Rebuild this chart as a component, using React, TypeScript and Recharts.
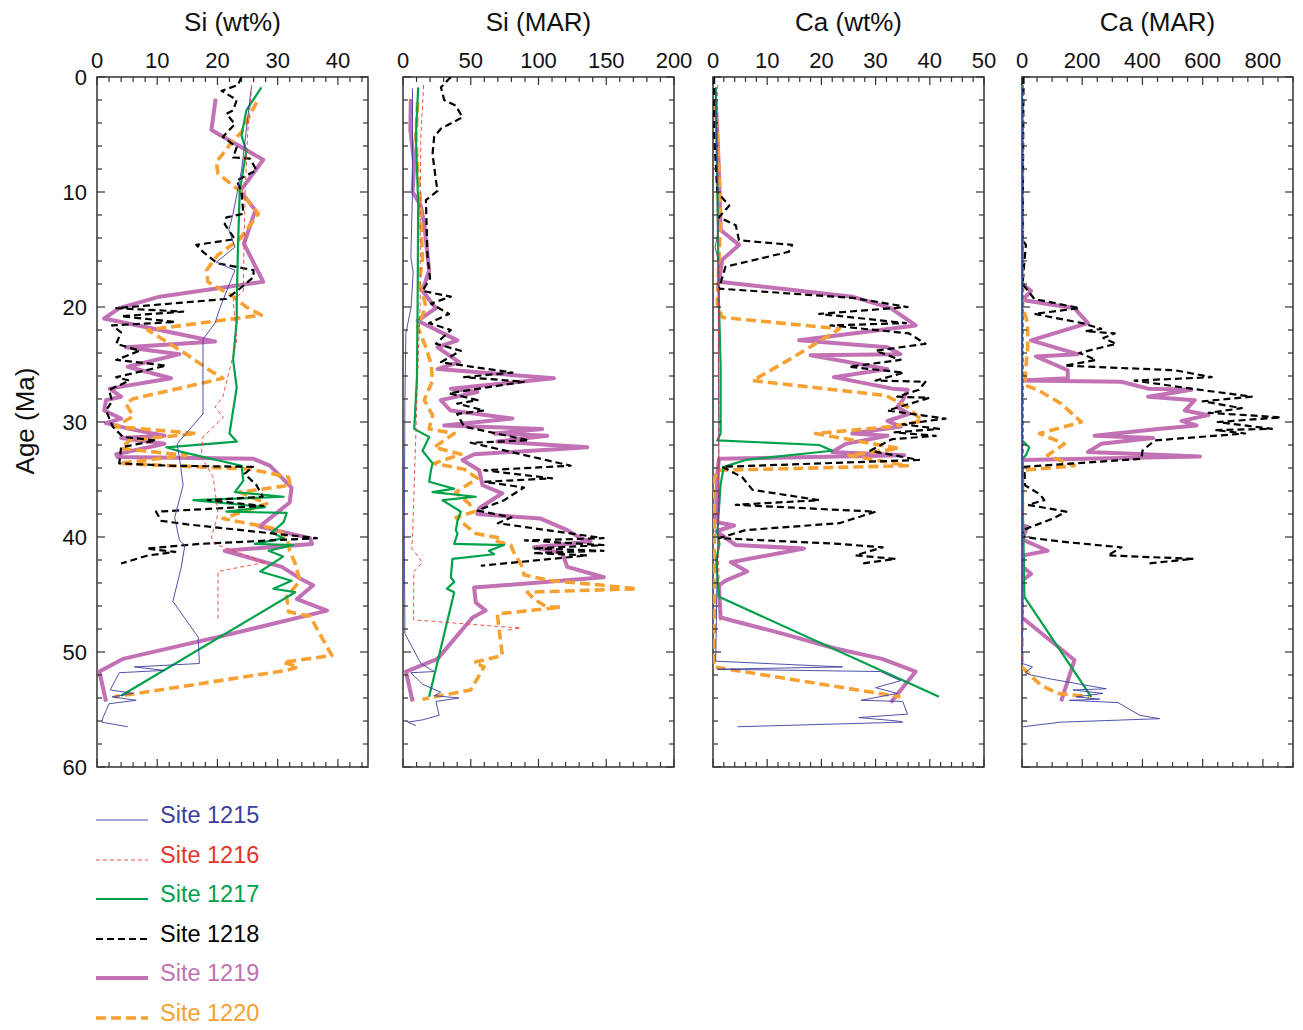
import React from 'react';
import { ScatterChart, Scatter, XAxis, YAxis, ReferenceArea } from 'recharts';

const FONT = '"Liberation Sans", Arial, Helvetica, sans-serif';

// sites, in legend order
const SITES = ['Site 1215', 'Site 1216', 'Site 1217', 'Site 1218', 'Site 1219', 'Site 1220'];

// tick labels
const AGE_MAJOR = [0, 10, 20, 30, 40, 50, 60];
const SI_WT_MAJOR = [0, 10, 20, 30, 40];
const SI_MAR_MAJOR = [0, 50, 100, 150, 200];
const CA_WT_MAJOR = [0, 10, 20, 30, 40, 50];
const CA_MAR_MAJOR = [0, 200, 400, 600, 800];

// ---- Si (wt%) : [age Ma, value]
const siWt1215 = [[1.0,25.6],[4.6,24.8],[8.1,24],[10,23.3],[11.9,22.6],[13.3,21.9],[14.8,22.9],[16.1,19.8],[16.8,22.9],[20.1,20.4],[21.4,19.6],[22.8,17.6],[29.3,17.6],[31.9,13.3],[33.5,13.8],[35.5,14.3],[38.3,12.9],[40.3,13.7],[40.7,14.6],[42.6,14],[45.6,12.6],[48.7,16.8],[51,17],[51.3,6.2],[51.6,11.2],[51.8,3.7],[53.3,2.2],[53.6,6],[53.9,2.5],[54.2,6.5],[54.5,2],[55.7,1],[56.1,0.8],[56.5,5.1]];
const siWt1216 = [[0.7,25.7],[5,25],[10,24.6],[15,24.4],[18.6,24.3],[19.4,22.6],[22.9,23.2],[25.5,22],[27.8,20.9],[28.7,19.6],[29.6,21],[31.3,17.6],[33,17.3],[34.8,19.3],[38,20.1],[40,19],[40.6,19.5],[42.2,27.9],[43,20.1],[47.4,20.1]];
const siWt1217 = [[0.9,27.3],[2.9,24.8],[5.1,24],[6.4,24.8],[9.9,23.7],[15,23.4],[19.7,23.2],[21.2,23.2],[24.6,22.6],[27,23.2],[31,22],[31.7,23.2],[32.2,11.5],[32.6,14],[33.8,24],[35.1,24.3],[36.1,22.9],[36.5,31],[36.8,16],[37.4,27.9],[37.8,21.5],[37.9,31.5],[38.7,31],[39.6,29],[40.1,31],[40.6,26.2],[40.7,32.6],[41.2,28.5],[41.7,30.9],[43,27.1],[43.8,32.3],[44.5,29.3],[44.8,32.9],[53.8,4]];
const siWt1218 = [[0,24],[0.7,23.4],[1.2,20.7],[2,23.2],[2.9,22.6],[3.2,21.5],[4.1,22.9],[5.2,20.9],[6.1,23.2],[7,22.6],[7.1,25.4],[8.1,26.5],[9,23.2],[10,24],[11.9,24.3],[12.2,21.5],[12.8,21.2],[14.1,22.9],[14.6,16.5],[15.2,17.6],[16.2,20],[16.8,26],[17.4,26],[18.5,23.5],[19.3,21.5],[20.1,3.2],[20.4,14.3],[20.8,4],[21.3,13],[21.6,2.5],[22.2,4],[23.2,3.2],[23.8,7.1],[24.6,3.2],[25.1,11.5],[26.1,3.2],[26.4,5.4],[27.2,2],[28.2,2.5],[29,1.5],[30.4,2.6],[31.3,4.3],[31.6,9.8],[32.2,4],[33.6,3.7],[33.8,12.1],[33.9,25.9],[34.5,24.5],[35.5,26.5],[36.5,27.5],[36.8,18.4],[37.3,27.6],[37.8,9.8],[38.6,10.7],[38.9,15],[40.1,36.5],[40.6,17.1],[41,8.2],[41.3,13],[41.6,8.5],[42.3,4]];
const siWt1219 = [[1.9,19.7],[4.6,19],[7.2,27.6],[9.9,23.8],[11.6,26.3],[14.5,24.4],[17.8,27.6],[19.1,10.4],[20.1,3.7],[21,1.2],[23,19.6],[23.5,4.8],[24.1,13.7],[25.2,5.1],[26.2,12.3],[27.1,2.1],[27.8,4],[28.1,1.5],[29,1.2],[29.7,4],[30.1,1.5],[30.6,5.4],[31.2,11.2],[31.4,4],[31.9,11.2],[32.8,3.2],[33.05,3.4],[33.2,26],[33.8,28.7],[35.7,32.3],[37,32],[39.1,27],[40.1,35.4],[40.6,35.7],[41.2,21.2],[42.6,30.7],[43.6,33.7],[44.2,35.9],[45.4,33.2],[46.4,38.2],[48.6,20.9],[50.6,4.3],[51.7,0.4],[54.3,1.5]];
const siWt1220 = [[2.2,26.5],[3.6,25.1],[4.8,24],[5.7,22.3],[6.5,21.2],[7.4,19.8],[8.4,20.1],[9.9,23.7],[11.9,26.8],[12.9,25.4],[14.1,23.7],[15.5,20],[16.8,18.2],[17.8,18.4],[19.1,22.6],[20,24.8],[20.7,27.3],[22,8.4],[22.8,10.9],[24.2,15.1],[25.5,18.7],[26.2,20.9],[28,5.9],[28.4,4.8],[29.5,6],[30.4,3],[31,16.5],[31.6,5.4],[32.3,4],[32.9,14.8],[33.6,3.7],[34.1,25.4],[34.8,31.8],[35.5,32.1],[36.1,23.7],[37.1,28.2],[38.4,20.9],[39.3,29.8],[40,31.5],[41.2,32],[42.3,32.9],[43.8,33.7],[45.2,31.5],[46.5,31.8],[46.9,35.4],[49,37.6],[50.3,39],[50.9,30.9],[51.3,33.4],[51.6,31.5],[53.9,2.9]];

// ---- Si (MAR)
const siMar1215 = [[1.0,7],[10,7],[15.7,5.8],[17,7.5],[20,6],[22.3,2.1],[28.1,1.4],[40,1],[48.4,1.4],[51,13.2],[51.7,23],[51.8,5.8],[52.8,14.4],[53.5,27.9],[53.8,23],[54,41.4],[54.3,24.3],[55.5,26.7],[55.9,14.4],[56.1,3.4],[56.4,9.5]];
const siMar1216 = [[0.7,15.2],[5.2,13.2],[11,12.7],[19.7,12.7],[25,11],[31,9.5],[39.7,7.1],[41,6.5],[42.2,14.4],[43,8],[47.2,7.8],[47.8,72.1],[47.9,86.8],[48.1,77]];
const siMar1217 = [[0.9,11.2],[5.2,9.5],[11,11.2],[19.7,10.8],[26.1,10.3],[30.6,8.3],[31.3,19.3],[32.5,14.4],[33.6,21.8],[34.2,20.6],[35.2,19.3],[35.8,37.8],[36.1,21.8],[36.5,53.7],[36.8,29.2],[37.8,42.7],[38.6,40.2],[39.4,39],[39.7,40.2],[40.6,37.8],[40.7,74.6],[41.2,63.5],[41.5,67.2],[41.9,36.5],[43.5,35.3],[43.9,37.8],[44.5,32.4],[44.8,37.8],[53.9,19.3]];
const siMar1218 = [[0,35.3],[0.9,28],[2,30.4],[2.5,39],[3.5,43.9],[4.5,27.9],[5.2,23],[6.7,21.8],[9,24.3],[9.9,25.5],[10.7,16.9],[15.7,18.1],[17.5,20],[18.6,14.4],[19.1,35.3],[19.7,20.6],[20.6,34],[21.4,19.3],[22,35.3],[23.2,24.3],[23.8,42.7],[24.8,28],[25.2,51.3],[25.7,80.7],[26.1,45.1],[26.5,89.3],[27.5,34],[28.1,55],[28.4,40],[29,59.8],[29.3,40],[30.4,45.1],[31.6,93],[31.8,50],[33.8,123.7],[34.2,60],[34.9,110],[35.2,60],[35.7,89.3],[36.8,74.6],[37.7,55],[38.3,80],[38.8,70],[40.1,148],[40.3,90],[40.7,148],[41,96],[41.2,148],[41.4,96],[41.6,136],[42.5,57.4]];
const siMar1219 = [[1.9,5.8],[4.6,5.4],[7.5,8.3],[10,7.1],[11.2,13.2],[12.8,15.7],[16.8,19.3],[18.6,14.4],[20.1,24.3],[21.2,10.8],[22.9,40.2],[23.5,25.5],[24.8,41.4],[25.4,25.5],[26.2,111.4],[27.1,35.3],[27.4,55],[28.1,27.9],[29,35],[29.7,80.7],[30.3,30.4],[30.6,102.8],[31,67.2],[31.2,106.5],[31.7,69.6],[32.2,136],[32.8,52.5],[33.3,43.9],[34.2,56.2],[35.5,58.7],[36.2,73.3],[37.5,56.2],[38,54.9],[38.4,101.6],[39.4,121.2],[40.1,131],[40.4,138.4],[40.9,96.7],[41.4,117.5],[42.6,121.2],[43.5,148.2],[44.4,52.5],[45.7,53.7],[46.4,61],[47,51.3],[50.6,25.5],[51.7,2.2],[54.3,7.1]];
const siMar1220 = [[2.2,10.8],[5.2,9.5],[8.1,10.8],[10.4,12.7],[12.5,13.2],[15.7,14.4],[18,12],[19.4,15.7],[20,16.9],[21.7,10.8],[23.5,16.9],[24.9,20.6],[26.4,21.8],[28.1,15.7],[29.4,21.8],[30.6,19.3],[31,37.8],[32.2,23],[32.8,42.7],[33.6,23],[34.1,45.1],[34.9,55],[36.1,39],[37.1,48.8],[37.8,52.5],[38.3,39],[39.7,53.7],[40.1,72.1],[40.4,69.6],[40.7,79.5],[41.4,82],[42.6,88.1],[43.3,89.3],[43.8,109],[44.2,148],[44.5,172.8],[44.8,91.8],[45.4,96.7],[46.1,106.5],[46.1,116.3],[46.7,69.6],[50.3,73.3],[50.9,52.5],[51.3,59.8],[53.3,50],[54.1,14.4]];

// ---- Ca (wt%)
const caWt1215 = [[1,0.5],[10,0.8],[13.3,1],[14.8,0.4],[16,1],[25,1],[35,1.1],[45,0.7],[50.8,0.5],[51.3,23.9],[51.5,0.8],[51.7,30.9],[52.5,34.6],[53.1,30],[53.6,34],[54.2,27.3],[54.3,35],[55.4,35.9],[55.7,26.9],[56,34],[56.1,35],[56.5,4.5]];
const caWt1216 = [[0.7,0.8],[10,0.9],[20,1],[30,1.1],[40,0.9],[45,1.2],[47.5,1.3]];
const caWt1217 = [[0.9,0.5],[10,0.8],[19.7,1.1],[25,1.4],[31,1.4],[31.6,0.8],[32,19.6],[32.5,22],[33.3,6],[33.9,2],[35.4,1.4],[39.7,0.8],[40.6,1.2],[42,0.6],[45.2,1.1],[53.9,41.7]];
const caWt1218 = [[0,0.2],[5,0.2],[10,0.8],[11.2,3],[12.2,1.1],[12.9,4.2],[14.2,4.8],[14.6,14.6],[15.2,14],[16.5,2.3],[18.4,1.1],[19.2,25.7],[20,35.9],[20.6,19.6],[21.4,35.6],[21.6,21.7],[22.3,36.2],[23.2,39.2],[23.8,30],[24.6,34.6],[25.2,25.1],[25.7,35.2],[26.4,30],[26.5,39.2],[27.2,38],[27.8,34],[27.9,39.9],[29,32.2],[29.7,42.9],[30.2,35],[30.6,41.7],[30.9,33.5],[31.2,41.1],[31.5,33],[32.5,29],[33.3,38],[33.9,1.7],[34.8,5.4],[35.9,7.3],[36.8,19.6],[37.2,4.2],[37.8,30],[38.8,23.3],[39.4,6],[40.1,1.1],[40.6,23.3],[40.9,31.3],[41.6,26.3],[41.9,33.7],[42.3,27.6]];
const caWt1219 = [[1.9,0.5],[8.1,1.1],[13.3,1.4],[14.6,4.8],[15.9,1.7],[17.8,1.1],[19.1,25.7],[20.1,32.8],[21.6,37.4],[22.9,15.9],[23.5,32.2],[24.1,34.6],[24.2,18],[25.4,32.2],[26.1,22.3],[27.1,33.1],[27.2,35.9],[28.1,35],[28.7,34],[29.3,36.2],[29.9,32.2],[30.4,34.6],[31,25.7],[31.2,32.2],[31.9,24.5],[32.6,22],[32.9,35.3],[33.2,1.1],[34.5,0.8],[38.7,0.5],[39,3.9],[39.5,0.6],[40.7,4.2],[41,16.8],[42.2,3.3],[43,6.3],[43.8,2.3],[44.2,1.1],[47,1.4],[48.4,12.8],[49.7,22.6],[50.6,31.2],[51.7,37.4],[54.4,32.8]];
const caWt1220 = [[2.2,0.5],[8,1.1],[12.5,1.4],[17,1],[19.7,0.8],[20.9,1.7],[21.9,23.3],[23.2,18.9],[24.6,14],[26.4,7.3],[27.7,31.9],[28.7,35.9],[29.9,38.6],[30.4,33],[31,18.9],[32.3,34.3],[32.9,25.1],[33.8,35.9],[34.2,0.8],[35,0.2],[45,0.3],[51.3,0.2],[53.9,34.6]];

// ---- Ca (MAR)
const caMar1215 = [[1,1],[20,2],[40,2],[50.5,1],[51,2],[51.3,35],[51.8,10],[52,30],[52.3,85],[53.2,280],[53.3,169],[53.6,269],[53.9,180],[54.1,258],[54.2,158],[54.4,319],[55.5,391],[55.8,457],[56.1,130],[56.5,2]];
const caMar1216 = [[0.7,5],[20,5],[40,5],[47.5,5]];
const caMar1217 = [[0.9,0],[31.6,0],[32.2,24],[32.9,13],[33.2,0],[45.2,8],[53.9,230]];
const caMar1218 = [[0,5],[10,3],[14.2,2],[14.6,13],[16,8],[18,2],[19.3,41],[20.1,191],[20.6,41],[21.4,200],[21.9,263],[22.1,210],[22.3,308],[22.7,270],[23.2,313],[24,190],[24.6,246],[25.1,141],[25.5,508],[26.1,630],[26.4,374],[27.1,563],[27.8,763],[28.2,600],[28.8,730],[29.2,620],[29.6,860],[30,650],[30.6,830],[30.7,641],[31,741],[31.6,441],[32.5,400],[33.2,397],[33.9,8],[35.5,10],[36.3,60],[36.8,74],[37.2,20],[37.8,147],[38.4,102],[39.4,2],[40,5],[40.4,130],[40.9,330],[41.6,285],[41.9,569],[42.3,419]];
const caMar1219 = [[1.9,0],[18,0],[18.6,30],[19.4,2],[20.1,174],[21.4,219],[22.9,30],[24.1,185],[24.3,46],[25.5,152],[26.2,152],[26.4,0],[26.5,330],[27.1,419],[27.2,563],[27.8,419],[28.1,574],[29,541],[29.4,619],[29.9,530],[30.3,580],[30.6,452],[31.2,241],[31.4,435],[31.9,263],[32.6,219],[33,591],[33.3,0],[39,0],[39.1,19],[40.2,0],[41.2,85],[41.6,5],[42.6,3],[43.2,30],[43.8,0],[47,0],[50.7,174],[54.3,130]];
const caMar1220 = [[2.2,0],[20,2],[21.4,19],[23.5,19],[25.2,13],[26.8,10],[27.2,52],[28.4,130],[30,197],[31,58],[31.9,141],[32.9,85],[33.8,174],[34.2,2],[45,0],[51.3,0],[52.9,63],[53.6,119],[53.9,224]];

const STYLES = [
  { color: '#3c3e9d', width: 0.9, dash: undefined },
  { color: '#e8402f', width: 0.9, dash: '4 3' },
  { color: '#00a14b', width: 2.2, dash: undefined },
  { color: '#000000', width: 2.2, dash: '7 4' },
  { color: '#c271b4', width: 4, dash: undefined },
  { color: '#f7a133', width: 3.6, dash: '10 5' },
];
const LEGEND_TEXT = ['#3c3e9d', '#e3352b', '#00a04b', '#000000', '#c271b4', '#f5a030'];
const DRAW_ORDER = [4, 5, 2, 3, 0, 1];

const PANELS = [
  { title: 'Si (wt%)', max: 45, minor: 2, major: SI_WT_MAJOR, left: 97, series: [siWt1215, siWt1216, siWt1217, siWt1218, siWt1219, siWt1220] },
  { title: 'Si (MAR)', max: 200, minor: 10, major: SI_MAR_MAJOR, left: 403, series: [siMar1215, siMar1216, siMar1217, siMar1218, siMar1219, siMar1220] },
  { title: 'Ca (wt%)', max: 50, minor: 2, major: CA_WT_MAJOR, left: 713, series: [caWt1215, caWt1216, caWt1217, caWt1218, caWt1219, caWt1220] },
  { title: 'Ca (MAR)', max: 900, minor: 50, major: CA_MAR_MAJOR, left: 1022, series: [caMar1215, caMar1216, caMar1217, caMar1218, caMar1219, caMar1220] },
];

const PLOT_W = 271;
const PLOT_H = 690;
const PLOT_TOP = 77;
const MARGIN = { top: 20, right: 26, bottom: 22, left: 10 };
const AX_H = 30;
const AX_W = 30;
const PL = MARGIN.left + AX_W;
const PT = MARGIN.top + AX_H;
const FRAME = '#333';

const range = (max: number, step: number) => {
  const out: number[] = [];
  for (let v = 0; v <= max + 1e-9; v += step) out.push(v);
  return out;
};

const noDot = () => <g />;

function Panel({ cfg, ageLabels }: { cfg: any; ageLabels: boolean }) {
  const xTicks = range(cfg.max, cfg.minor);
  const yTicks = range(60, 2);

  const XTick = (p: any) => {
    const v = p.payload.value;
    const major = cfg.major.includes(v);
    const len = major ? 8 : 5;
    return (
      <g>
        <line x1={p.x} x2={p.x} y1={PT} y2={PT + len} stroke={FRAME} strokeWidth={1.2} />
        <line x1={p.x} x2={p.x} y1={PT + PLOT_H} y2={PT + PLOT_H - len} stroke={FRAME} strokeWidth={1.2} />
        {major && (
          <text x={p.x} y={PT - 9} textAnchor="middle" fontSize={22} fontFamily={FONT} fill="#111">
            {v}
          </text>
        )}
      </g>
    );
  };

  const YTick = (p: any) => {
    const v = p.payload.value;
    const major = AGE_MAJOR.includes(v);
    const len = major ? 8 : 5;
    return (
      <g>
        <line x1={PL} x2={PL + len} y1={p.y} y2={p.y} stroke={FRAME} strokeWidth={1.2} />
        <line x1={PL + PLOT_W} x2={PL + PLOT_W - len} y1={p.y} y2={p.y} stroke={FRAME} strokeWidth={1.2} />
        {major && ageLabels && (
          <text x={PL - 10} y={p.y} dy="0.36em" textAnchor="end" fontSize={22} fontFamily={FONT} fill="#111">
            {v}
          </text>
        )}
      </g>
    );
  };

  return (
    <div style={{ position: 'absolute', left: cfg.left - PL, top: PLOT_TOP - PT }}>
      <ScatterChart width={PL + PLOT_W + MARGIN.right} height={PT + PLOT_H + MARGIN.bottom} margin={MARGIN}>
        <XAxis
          type="number"
          dataKey="x"
          orientation="top"
          domain={[0, cfg.max]}
          ticks={xTicks}
          interval={0}
          height={AX_H}
          tick={XTick}
          tickLine={false}
          axisLine={false}
          allowDataOverflow
        />
        <YAxis
          type="number"
          dataKey="y"
          reversed
          domain={[0, 60]}
          ticks={yTicks}
          interval={0}
          width={AX_W}
          tick={YTick}
          tickLine={false}
          axisLine={false}
          allowDataOverflow
        />
        {DRAW_ORDER.map((i) => {
          const s = STYLES[i];
          const data = cfg.series[i].map(([age, v]: number[]) => ({ x: v, y: age }));
          return (
            <Scatter
              key={SITES[i]}
              name={SITES[i]}
              data={data}
              fill={s.color}
              shape={noDot}
              line={{ stroke: s.color, strokeWidth: s.width, strokeDasharray: s.dash, strokeLinejoin: 'round' }}
              lineType="joint"
              isAnimationActive={false}
            />
          );
        })}
        <ReferenceArea x1={0} x2={cfg.max} y1={0} y2={60} fill="none" stroke={FRAME} strokeWidth={1.5} />
      </ScatterChart>
    </div>
  );
}

export default function App() {
  const rows = [815, 855, 894, 934, 973, 1013];
  return (
    <div style={{ position: 'absolute', left: 0, top: 0, width: 1303, height: 1030, background: '#fff', fontFamily: FONT }}>
      <svg width={1303} height={1030} style={{ position: 'absolute', left: 0, top: 0 }}>
        {PANELS.map((p) => (
          <text key={p.title} x={p.left + PLOT_W / 2} y={31} textAnchor="middle" fontSize={26} fontFamily={FONT} fill="#111">
            {p.title}
          </text>
        ))}
        <text transform="translate(34,421) rotate(-90)" textAnchor="middle" fontSize={26} fontFamily={FONT} fill="#111">
          Age (Ma)
        </text>
        {SITES.map((name, i) => (
          <g key={name}>
            <line
              x1={96}
              x2={148}
              y1={rows[i] + 5}
              y2={rows[i] + 5}
              stroke={STYLES[i].color}
              strokeWidth={STYLES[i].width}
              strokeDasharray={STYLES[i].dash}
            />
            <text x={160} y={rows[i] + 8} fontSize={23.5} fontFamily={FONT} fill={LEGEND_TEXT[i]}>
              {name}
            </text>
          </g>
        ))}
      </svg>
      {PANELS.map((p, i) => (
        <Panel key={p.title} cfg={p} ageLabels={i === 0} />
      ))}
    </div>
  );
}
